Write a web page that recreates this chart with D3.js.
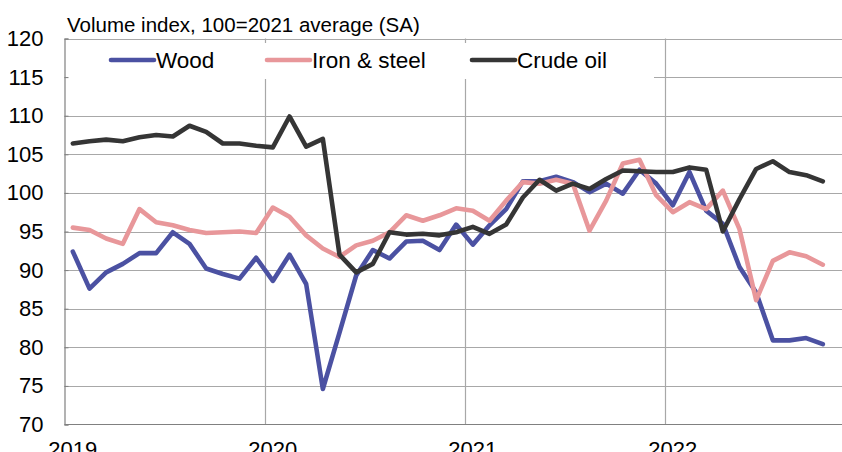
<!DOCTYPE html>
<html>
<head>
    <meta charset="utf-8">
    <style>
        body { margin: 0; background: #fff; }
        text { font-family: "Liberation Sans", Arial, sans-serif; fill: #000; }
    </style>
</head>
<body>
    <script src="https://cdn.jsdelivr.net/npm/d3@7"></script>
    <script>
        // monthly, Jan 2019 .. Oct 2022
        var years = ["2019", "2020", "2021", "2022"];
        var yTicks = [70, 75, 80, 85, 90, 95, 100, 105, 110, 115, 120];

        var wood = [92.4, 87.6, 89.7, 90.8, 92.2, 92.2, 94.9, 93.4, 90.2, 89.5, 88.9, 91.6,
                    88.6, 92.0, 88.2, 74.6, 81.9, 89.3, 92.6, 91.5, 93.7, 93.8, 92.6, 95.9,
                    93.3, 95.8, 97.9, 101.5, 101.5, 102.1, 101.4, 100.1, 101.2, 99.9, 103.0, 101.2,
                    98.4, 102.7, 97.7, 96.0, 90.4, 87.1, 80.9, 80.9, 81.2, 80.4];
        var ironSteel = [95.5, 95.2, 94.1, 93.4, 97.9, 96.2, 95.8, 95.2, 94.8, 94.9, 95.0, 94.8,
                    98.1, 96.9, 94.5, 92.8, 91.7, 93.2, 93.8, 94.9, 97.1, 96.4, 97.1, 98.0,
                    97.7, 96.4, 99.0, 101.4, 101.2, 101.7, 101.2, 95.1, 99.0, 103.8, 104.3, 99.7,
                    97.5, 98.8, 97.9, 100.3, 95.3, 86.1, 91.2, 92.3, 91.8, 90.7];
        var crudeOil = [106.4, 106.7, 106.9, 106.7, 107.2, 107.5, 107.3, 108.7, 107.9, 106.4, 106.4, 106.1,
                    105.9, 109.9, 106.0, 107.0, 92.0, 89.7, 90.8, 94.9, 94.6, 94.7, 94.5, 94.9,
                    95.6, 94.7, 95.9, 99.4, 101.7, 100.3, 101.2, 100.5, 101.8, 102.9, 102.8, 102.7,
                    102.7, 103.3, 103.0, 95.0, 99.2, 103.1, 104.1, 102.7, 102.3, 101.5];

        var series = [
            { name: "Wood", values: wood, color: "#4b51a2" },
            { name: "Iron & steel", values: ironSteel, color: "#e8979a" },
            { name: "Crude oil", values: crudeOil, color: "#353535" }
        ];

        var width = 842, height = 452;
        var plotLeft = 64.5, plotTop = 38.5, plotBottom = 424.5;

        var svg = d3.select("body").append("svg")
            .attr("width", width)
            .attr("height", height);

        var x = d3.scaleLinear().domain([0, 48]).range([plotLeft, plotLeft + 800]);
        var y = d3.scaleLinear().domain([70, 120]).range([plotBottom, plotTop]);

        // horizontal grid
        svg.append("g")
            .selectAll("line")
            .data(yTicks.slice(1))
            .enter()
            .append("line")
            .attr("x1", plotLeft).attr("x2", width)
            .attr("y1", function (d) { return Math.round(y(d)) + 0.5; })
            .attr("y2", function (d) { return Math.round(y(d)) + 0.5; })
            .attr("stroke", "#a8a8a8").attr("stroke-width", 1.2);

        // year gridlines
        svg.append("g")
            .selectAll("line")
            .data([12, 24, 36, 48])
            .enter()
            .append("line")
            .attr("x1", function (d) { return Math.round(x(d)) + 0.5; })
            .attr("x2", function (d) { return Math.round(x(d)) + 0.5; })
            .attr("y1", plotTop).attr("y2", plotBottom)
            .attr("stroke", "#a8a8a8").attr("stroke-width", 1.2);

        // legend box hides the grid underneath
        var legend = svg.append("g");
        legend.append("rect")
            .attr("x", 68).attr("y", 43)
            .attr("width", 586).attr("height", 36)
            .attr("fill", "#fff");

        // axes
        var yAxis = d3.axisLeft(y).tickValues(yTicks).tickSize(-4).tickPadding(21).tickFormat(d3.format("d"));
        var yAxisNodes = svg.append("g")
            .attr("transform", "translate(" + plotLeft + ",0)")
            .call(yAxis);
        yAxisNodes.selectAll(".domain").attr("stroke", "#808080").attr("stroke-width", 1.2);
        yAxisNodes.selectAll(".tick line").attr("stroke", "#808080");
        yAxisNodes.selectAll("text")
            .attr("font-size", 22)
            .attr("font-family", "'Liberation Sans', Arial, sans-serif")
            .attr("fill", "#111");

        svg.append("line")
            .attr("x1", plotLeft).attr("x2", width)
            .attr("y1", plotBottom).attr("y2", plotBottom)
            .attr("stroke", "#808080").attr("stroke-width", 1.2);

        svg.append("g")
            .selectAll("text")
            .data(years)
            .enter()
            .append("text")
            .attr("x", function (d, i) { return x(i * 12 + 0.5); })
            .attr("y", 457)
            .attr("text-anchor", "middle")
            .attr("font-size", 22)
            .attr("fill", "#111")
            .text(function (d) { return d; });

        // title
        svg.append("text")
            .attr("x", 67).attr("y", 32)
            .attr("font-size", 20.5)
            .attr("fill", "#111")
            .text("Volume index, 100=2021 average (SA)");

        // lines
        var line = d3.line()
            .x(function (d, i) { return x(i + 0.5); })
            .y(function (d) { return y(d); });

        svg.append("g")
            .selectAll("path")
            .data(series)
            .enter()
            .append("path")
            .attr("d", function (d) { return line(d.values); })
            .attr("fill", "none")
            .attr("stroke", function (d) { return d.color; })
            .attr("stroke-width", 4.6)
            .attr("stroke-linejoin", "round")
            .attr("stroke-linecap", "round");

        // legend entries
        var legendX = [111, 267, 472];
        var items = legend.selectAll("g.item")
            .data(series)
            .enter()
            .append("g")
            .attr("transform", function (d, i) { return "translate(" + legendX[i] + ",60)"; });
        items.append("line")
            .attr("x1", 0).attr("x2", 43)
            .attr("stroke", function (d) { return d.color; })
            .attr("stroke-width", 4.6)
            .attr("stroke-linecap", "round");
        items.append("text")
            .attr("x", 45).attr("y", 8)
            .attr("font-size", 22.5)
            .attr("fill", "#111")
            .text(function (d) { return d.name; });
    </script>
</body>
</html>
